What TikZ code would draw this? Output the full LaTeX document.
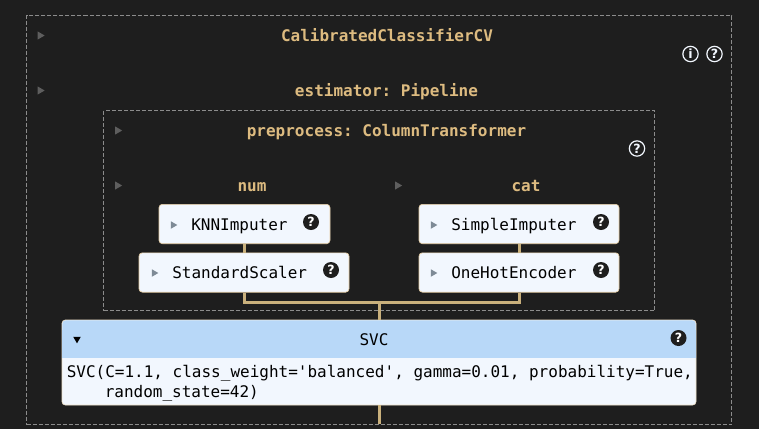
\documentclass[tikz,border=0pt]{standalone}
\usepackage{fontspec}
\setmonofont{DejaVu Sans Mono}
\newfontfamily\iconfont{DejaVu Sans}
\definecolor{bgc}{HTML}{1E1E1E}
\definecolor{tan}{HTML}{DDBB80}
\definecolor{linkc}{HTML}{C9B07C}
\definecolor{dashc}{HTML}{8C8C8C}
\definecolor{boxc}{HTML}{F2F7FE}
\definecolor{hdrc}{HTML}{B8D8F8}
\definecolor{tric}{HTML}{5E5E5E}
\definecolor{trib}{HTML}{7E8A96}
\tikzset{
  x=0.75pt,y=-0.75pt,
  dashbox/.style={draw=dashc,line width=0.75pt,dash pattern=on 3pt off 1.5pt,anchor=north west,inner sep=0pt,outer sep=0pt},
  est/.style={draw=tan!70!white,line width=0.5pt,fill=boxc,rounded corners=2.5pt,inner sep=0pt,minimum height=29.5pt},
  title/.style={font=\ttfamily\bfseries\fontsize{12pt}{14pt}\selectfont,text=tan,inner sep=0pt,anchor=base},
  lbl/.style={font=\ttfamily\fontsize{12pt}{14pt}\selectfont,text=black,inner sep=0pt,anchor=base west},
  link/.style={draw=linkc,line width=2.25pt},
  tridark/.style={fill=tric,draw=none,regular polygon,regular polygon sides=3,shape border rotate=-90,minimum size=7pt,inner sep=0pt},
  trilight/.style={tridark,fill=trib,minimum size=6.5pt},
  helpk/.style={circle,fill=bgc,text=white,inner sep=0pt,minimum size=12pt,font=\iconfont\bfseries\fontsize{9.5pt}{10pt}\selectfont},
  helpd/.style={circle,draw=boxc,line width=0.9pt,fill=bgc,text=boxc,inner sep=0pt,minimum size=11.5pt,font=\iconfont\bfseries\fontsize{9.5pt}{10pt}\selectfont},
}
\usetikzlibrary{shapes.geometric}
\begin{document}
\begin{tikzpicture}
\fill[bgc] (0,0) rectangle (759,429);
\useasboundingbox (0,0) rectangle (759,429);
% dashed frames
\node[dashbox,minimum width=528.75pt,minimum height=306.75pt] (outer) at (26.5,15.5) {};
\node[dashbox,minimum width=413.25pt,minimum height=150pt] (inner) at (103.5,110.5) {};
% titles
\node[title] (t1) at (387,41) {CalibratedClassifierCV};
\node[title] (t2) at (386.5,96) {estimator: Pipeline};
\node[title] (t3) at (386.5,136) {preprocess: ColumnTransformer};
\node[title] (t4) at (252,191) {num};
\node[title] (t5) at (526,191) {cat};
% estimator boxes
\node[est,minimum width=128.25pt] (knn) at (244.5,224) {};
\node[est,minimum width=157.5pt] (std) at (244,272.5) {};
\node[est,minimum width=150pt] (simp) at (519,224) {};
\node[est,minimum width=150pt] (ohe) at (519,272.5) {};
\node[lbl] (l1) at (191,230) {KNNImputer};
\node[lbl] (l2) at (172,278) {StandardScaler};
\node[lbl] (l3) at (451,230) {SimpleImputer};
\node[lbl] (l4) at (451,278) {OneHotEncoder};
% SVC box
\node[est,minimum width=475.5pt,minimum height=63.75pt,draw=tan!40!white] (svc) at (379,362.5) {};
\fill[hdrc,rounded corners=2.5pt] (62.4,345) -- (62.4,320.4) -- (695.6,320.4) -- (695.6,345) -- cycle;
\fill[hdrc] (62.4,330) rectangle (695.6,358);
\node[lbl,anchor=base] (s0) at (374,345) {SVC};
\node[lbl] (s1) at (66.5,377) {SVC(C=1.1, class\_weight='balanced', gamma=0.01, probability=True,};
\node[lbl] (s2) at (104.5,397) {random\_state=42)};
% connectors
\coordinate (jn) at (379.5,302);
\coordinate (outend) at (379.5,424);
\draw[link] (knn.south) -- (knn.south |- std.north);
\draw[link] (simp.south) -- (ohe.north);
\draw[link] (std.south) |- (jn);
\draw[link] (ohe.south) |- (jn);
\draw[link] (jn) -- (jn |- svc.north);
\draw[link] (jn |- svc.south) -- (outend);
% triangles
\node[tridark] (a1) at (40,35.5) {};
\node[tridark] (a2) at (40,90.5) {};
\node[tridark] (a3) at (117.5,130.5) {};
\node[tridark] (a4) at (117.5,185.5) {};
\node[tridark] (a5) at (397.5,185.5) {};
\node[trilight] (b1) at (173,225) {};
\node[trilight] (b2) at (154,273) {};
\node[trilight] (b3) at (433,225) {};
\node[trilight] (b4) at (433,273) {};
\node[tridark,fill=black,shape border rotate=180,minimum size=6.5pt] (b5) at (77,339) {};
% help icons
\node[helpd] (h1) at (690.5,54) {i};
\node[helpd] (h2) at (714.5,54) {?};
\node[helpd] (h3) at (637,148.5) {?};
\node[helpk] (h4) at (311,222) {?};
\node[helpk] (h5) at (331,270) {?};
\node[helpk] (h6) at (601,222) {?};
\node[helpk] (h7) at (601,270) {?};
\node[helpk] (h8) at (678.5,338) {?};
\end{tikzpicture}
\end{document}
